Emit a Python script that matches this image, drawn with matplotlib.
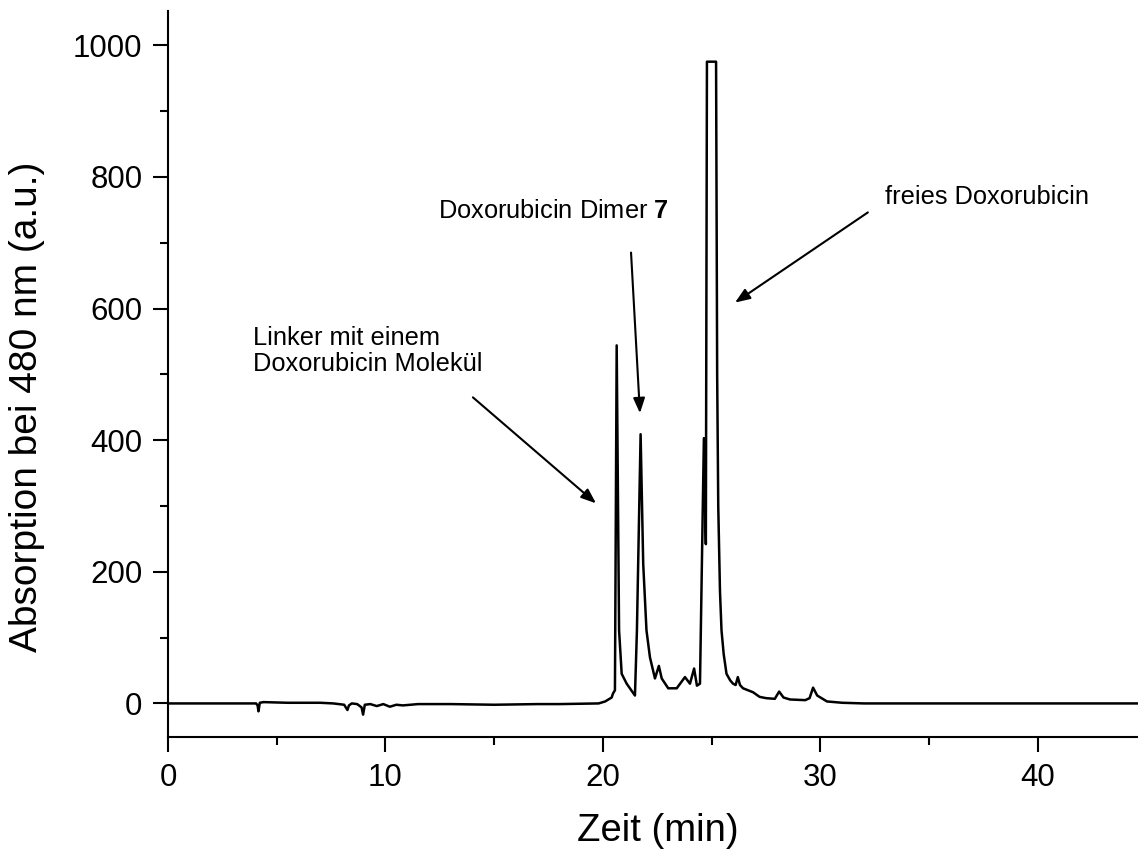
import matplotlib
matplotlib.use("Agg")
import matplotlib.pyplot as plt
from matplotlib.ticker import MultipleLocator

plt.rcParams['font.family'] = ['Liberation Sans', 'DejaVu Sans']
plt.rcParams['mathtext.fontset'] = 'custom'
plt.rcParams['mathtext.bf'] = 'Liberation Sans:bold'
plt.rcParams['mathtext.rm'] = 'Liberation Sans'

# Chromatogramm
zeit = [0, 4.05, 4.12, 4.16, 4.22, 4.4, 5.5, 7.0, 7.6, 8.1, 8.25, 8.32, 8.45, 8.7, 8.9,
        8.97, 9.05, 9.3, 9.6, 9.9, 10.2, 10.5, 10.8, 11.5, 13, 15, 17, 18, 19.8,
        20.1, 20.4, 20.46, 20.55, 20.63, 20.74, 20.86, 21.09, 21.47, 21.56, 21.73,
        21.85, 22.0, 22.16, 22.39, 22.57, 22.7, 23.0, 23.39, 23.77, 24.0, 24.19,
        24.32, 24.46, 24.64, 24.73, 24.78, 25.2, 25.25, 25.3, 25.38, 25.45, 25.55,
        25.68, 25.85, 25.98, 26.1, 26.2, 26.3, 26.44, 26.9, 27.2, 27.5, 27.9, 28.1,
        28.3, 28.6, 29.3, 29.5, 29.66, 29.85, 30.3, 31, 32, 36, 40, 44.6]
absorption = [0, 0, -3, -12, 1, 2, 1, 1, 0, -2, -10, -3, 0, -1, -6,
              -17, -2, -1, -4, -1, -5, -2, -3, -1, -1, -2, -1, -1, 0,
              3, 9, 15, 20, 544, 111, 45, 30, 12, 110, 409,
              212, 111, 70, 38, 57, 38, 23, 23, 40, 30, 53,
              27, 30, 403, 242, 975, 975, 500, 300, 170, 111, 75,
              45, 35, 30, 28, 40, 28, 23, 17, 10, 8, 7, 18,
              9, 6, 5, 8, 24, 12, 3, 1, 0, 0, 0, 0]

fig = plt.figure(figsize=(11.38, 8.5), dpi=100)
ax = fig.add_axes([168 / 1138, 113 / 850, 970 / 1138, 726 / 850])

ax.plot(zeit, absorption, color='black', lw=1.8)

ax.set_xlim(0, 44.6)
ax.set_ylim(-51, 1052)
ax.xaxis.set_major_locator(MultipleLocator(10))
ax.xaxis.set_minor_locator(MultipleLocator(5))
ax.yaxis.set_major_locator(MultipleLocator(200))
ax.yaxis.set_minor_locator(MultipleLocator(100))

for s in ['top', 'right']:
    ax.spines[s].set_visible(False)
for s in ['left', 'bottom']:
    ax.spines[s].set_linewidth(1.5)

ax.tick_params(which='major', direction='out', length=10.5, width=1.5,
               labelsize=22.5, pad=8)
ax.tick_params(which='minor', direction='out', length=5.5, width=1.5)

ax.set_xlabel('Zeit (min)', fontsize=27.5)
ax.set_ylabel('Absorption bei 480 nm (a.u.)', fontsize=28)
ax.xaxis.set_label_coords(0.505, -0.105)
ax.yaxis.set_label_coords(-0.127, 0.4545)

pfeil = dict(arrowstyle='-|>,head_length=0.9,head_width=0.35', color='black',
             lw=1.5, shrinkA=0, shrinkB=0)

ax.text(3.9, 574, 'Linker mit einem\nDoxorubicin Molekül', fontsize=18.3,
        ha='left', va='top', linespacing=1.1)
ax.annotate('', xy=(19.68, 304), xytext=(14.02, 465), arrowprops=pfeil)

ax.text(12.4, 738, r'Doxorubicin Dimer $\mathbf{7}$', fontsize=18.3,
        ha='left', va='baseline')
ax.annotate('', xy=(21.70, 441), xytext=(21.29, 685), arrowprops=pfeil)

ax.text(32.95, 759, 'freies Doxorubicin', fontsize=18.3, ha='left', va='baseline')
ax.annotate('', xy=(26.07, 609), xytext=(32.18, 746), arrowprops=pfeil)

fig.savefig('out.png', dpi=100)
